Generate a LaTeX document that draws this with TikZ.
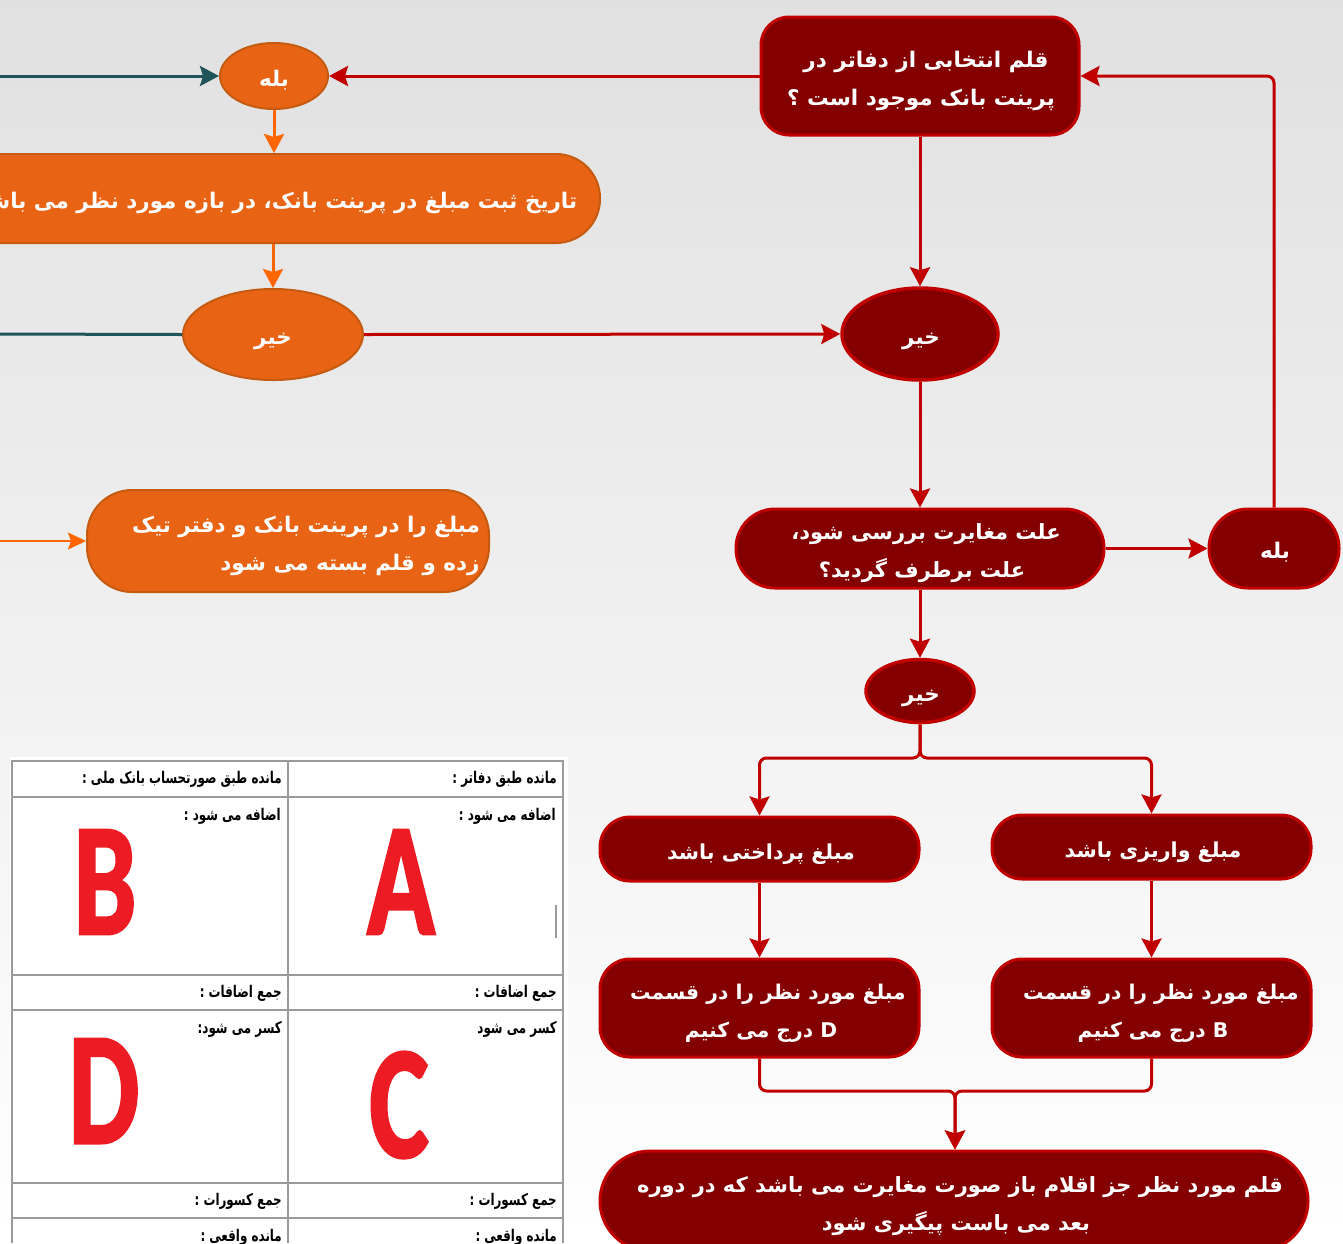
\documentclass[tikz,border=0pt]{standalone}
\usepackage{fontspec}
\setmainfont{DejaVu Sans}
\newfontfamily\fa[Script=Arabic]{DejaVu Sans}
\newfontfamily\letterfont[BoldFeatures={FakeBold=2}]{Carlito}
\TeXXeTstate=1
\usetikzlibrary{arrows.meta,shapes.geometric,calc}
\definecolor{darkred}{HTML}{840000}
\definecolor{linered}{HTML}{C00000}
\definecolor{orangefill}{HTML}{E96314}
\definecolor{orangeline}{HTML}{C55A11}
\definecolor{orangearrow}{HTML}{FF6600}
\definecolor{tealline}{HTML}{1F5458}
\definecolor{gridgray}{HTML}{9A9A9A}
\definecolor{letterred}{HTML}{ED1C24}
% one right-to-left line; the optional width pushes a centred line to the right by half of it
\newcommand{\rl}[2][0pt]{\hspace*{#1}\rule[-8pt]{0pt}{36pt}\beginR #2\endR}
\newcommand{\cl}[1]{\scalebox{.85}[1.15]{\beginR #1\endR}}
\tikzset{
  x=1pt,y=-1pt,
  fsize/.style={font=\fa\fontsize{#1}{38}\selectfont\bfseries},
  txt/.style={text=white,align=center,fsize=21.5,inner sep=0pt},
  redbox/.style={txt,draw=linered,fill=darkred,line width=3pt,rounded corners=#1},
  orgbox/.style={txt,draw=orangeline,fill=orangefill,line width=2pt,rounded corners=#1},
  redell/.style={txt,ellipse,draw=linered,fill=darkred,line width=3.5pt},
  orgell/.style={txt,ellipse,draw=orangeline,fill=orangefill,line width=2pt},
  redarrow/.style={draw=linered,line width=3pt,-{Stealth[length=19pt,width=20pt,inset=3pt]},rounded corners=7pt},
  orgarrow/.style={draw=orangearrow,line width=3pt,-{Stealth[length=19pt,width=20pt,inset=3pt]}},
  cell/.style={anchor=east,inner sep=0pt,text=black,font=\fa\fontsize{14}{16}\selectfont\bfseries},
  bigletter/.style={inner sep=0pt,text=letterred,font=\letterfont\fontsize{160}{160}\selectfont\bfseries},
  grid/.style={draw=gridgray,line width=1.3pt},
}
\begin{document}
\begin{tikzpicture}
\useasboundingbox (0,0) rectangle (1343,1243);
\clip (0,0) rectangle (1343,1243);
\shade[top color={rgb:black,12;white,88},bottom color=white,middle color={rgb:black,6;white,94}] (0,0) rectangle (1343,1243);

% table
\fill[white] (10,757) rectangle (568,1243);
\draw[grid] (12,1243) -- (12,761) -- (563,761) -- (563,1243);
\draw[grid] (288,761) -- (288,1243);
\foreach \yy in {797,975,1010,1183,1218} \draw[grid] (12,\yy) -- (563,\yy);
\draw[gridgray,line width=1.5pt] (556,905) -- (556,938);
\node[cell] (t1) at (557,779) {\cl{مانده طبق دفاتر :}};
\node[cell] (t2) at (282,779) {\cl{مانده طبق صورتحساب بانک ملی :}};
\node[cell] (t3) at (556,816) {\cl{اضافه می شود :}};
\node[cell] (t4) at (281,816) {\cl{اضافه می شود :}};
\node[cell] (t5) at (557,993) {\cl{جمع اضافات :}};
\node[cell] (t6) at (282,993) {\cl{جمع اضافات :}};
\node[cell] (t7) at (557,1029) {\cl{کسر می شود}};
\node[cell] (t8) at (282,1029) {\cl{کسر می شود:}};
\node[cell] (t9) at (557,1201) {\cl{جمع کسورات :}};
\node[cell] (t10) at (282,1201) {\cl{جمع کسورات :}};
\node[cell] (t11) at (557,1237) {\cl{مانده واقعی :}};
\node[cell] (t12) at (282,1237) {\cl{مانده واقعی :}};
\node[bigletter] (la) at (401,882) {\scalebox{.7}[1]{A}};
\node[bigletter] (lb) at (105,882) {\scalebox{.7}[1]{B}};
\node[bigletter] (lc) at (399,1105) {\scalebox{.7}[1]{C}};
\node[bigletter] (ld) at (104,1091) {\scalebox{.7}[1]{D}};

% free ends
\coordinate (tealA) at (-5,76);
\coordinate (tealB) at (-5,334);
\coordinate (orgC) at (-5,541);
\coordinate (split) at (920,758);
\coordinate (merge) at (955,1091);

% nodes
\node[orgell,minimum width=108pt,minimum height=66pt] (yesorg) at (274,76) {\rl{بله}};
\node[orgbox=44pt,minimum width=652pt,minimum height=89pt] (datebox) at (274,198.5) {\rl[6pt]{تاریخ ثبت مبلغ در پرینت بانک، در بازه مورد نظر می باشد}};
\node[orgell,minimum width=180pt,minimum height=91pt] (noorg) at (273,334.5) {\rl{خیر}};
\node[orgbox=45pt,minimum width=402pt,minimum height=102pt] (tick) at (288,541) {\rl[36pt]{مبلغ را در پرینت بانک و دفتر تیک}\\\rl[124pt]{زده و قلم بسته می شود}};

\node[redbox=28pt,minimum width=318pt,minimum height=118pt] (q) at (920,76) {\rl[12pt]{قلم انتخابی از دفاتر در}\\\rl[2pt]{پرینت بانک موجود است ؟}};
\node[redell,minimum width=156pt,minimum height=92pt] (nored) at (920,334) {\rl[2pt]{خیر}};
\node[redbox=39pt,minimum width=368pt,minimum height=79pt,fsize=21] (cause) at (920,548.5) {\rl[12pt]{علت مغایرت بررسی شود،}\\\rl[4pt]{علت برطرف گردید؟}};
\node[redbox=39pt,minimum width=130pt,minimum height=79pt] (yesred) at (1274,548.5) {\rl[2pt]{بله}};
\node[redell,minimum width=108pt,minimum height=63pt] (nosmall) at (920,691) {\rl[2pt]{خیر}};
\node[redbox=30pt,minimum width=319pt,minimum height=64pt,fsize=20.6] (pay) at (759.5,849) {\rl[3pt]{مبلغ پرداختی باشد}};
\node[redbox=30pt,minimum width=319pt,minimum height=64pt,fsize=20.6] (dep) at (1151.5,847) {\rl[3pt]{مبلغ واریزی باشد}};
\node[redbox=30pt,minimum width=319pt,minimum height=98pt,fsize=20.3] (inD) at (759.5,1008) {\rl[17pt]{مبلغ مورد نظر را در قسمت}\\\rl[3pt]{D درج می کنیم}};
\node[redbox=30pt,minimum width=319pt,minimum height=98pt,fsize=20.3] (inB) at (1151.5,1008) {\rl[19pt]{مبلغ مورد نظر را در قسمت}\\\rl[3pt]{B درج می کنیم}};
\node[redbox=50pt,minimum width=708pt,minimum height=100pt,fsize=21] (last) at (954,1201) {\rl[12pt]{قلم مورد نظر جز اقلام باز صورت مغایرت می باشد که در دوره}\\\rl[4pt]{بعد می باست پیگیری شود}};

% connectors
\draw[draw=tealline,line width=3pt,-{Stealth[length=19pt,width=20pt,inset=3pt]}] (tealA) -- (yesorg.west);
\draw[draw=tealline,line width=3pt] (tealB) -- (noorg.west);
\draw[draw=orangearrow,line width=1.5pt,-{Stealth[length=18pt,width=17pt,inset=3pt]}] (orgC) -- (tick.west);
\draw[redarrow] (q.west) -- (yesorg.east);
\draw[orgarrow] (yesorg.south) -- (yesorg.south |- datebox.north);
\draw[orgarrow] (noorg.north |- datebox.south) -- (noorg.north);
\draw[redarrow] (noorg.east) -- (nored.west);
\draw[redarrow] (q.south) -- (nored.north);
\draw[redarrow] (nored.south) -- (cause.north);
\draw[redarrow] (cause.east) -- (yesred.west);
\draw[redarrow] (yesred.north) |- (q.east);
\draw[redarrow] (cause.south) -- (nosmall.north);
\draw[redarrow] (nosmall.south) -- (split) -| (pay.north);
\draw[redarrow] (nosmall.south) -- (split) -| (dep.north);
\draw[redarrow] (pay.south) -- (inD.north);
\draw[redarrow] (dep.south) -- (inB.north);
\draw[redarrow] (inD.south) |- (merge) -- (last.north -| merge);
\draw[redarrow] (inB.south) |- (merge) -- (last.north -| merge);
\end{tikzpicture}
\end{document}
